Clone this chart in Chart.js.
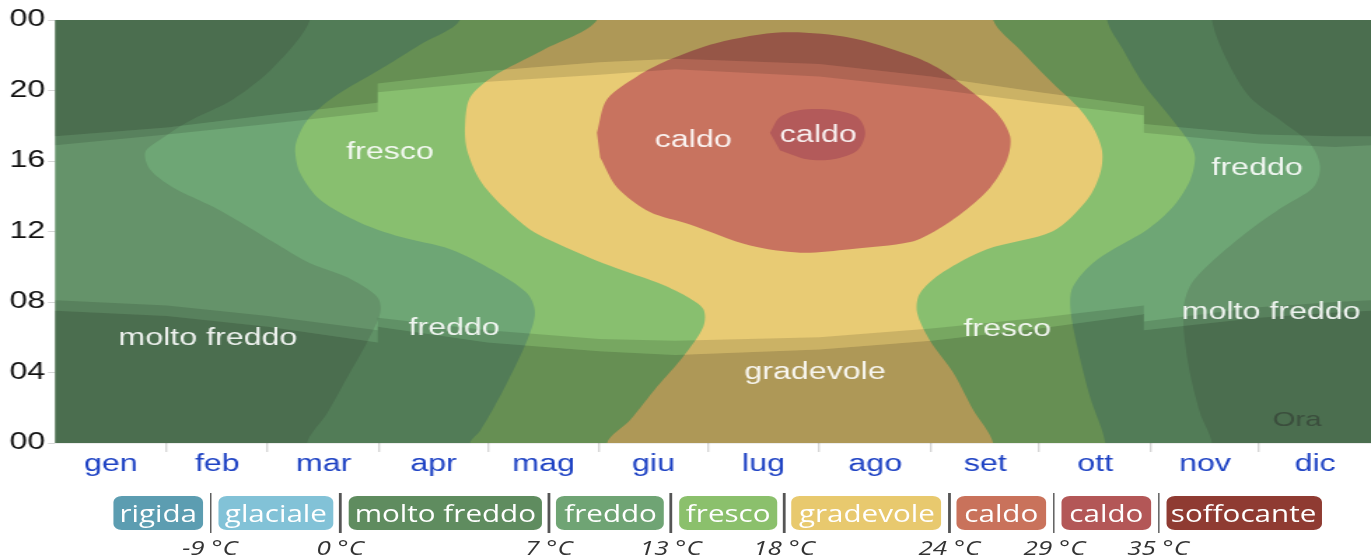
<!DOCTYPE html>
<html>
<head>
<meta charset="utf-8">
<script src="https://cdn.jsdelivr.net/npm/chart.js@4.4.1/dist/chart.umd.min.js"></script>
<style>
  html, body { margin: 0; padding: 0; background: #fff; overflow: hidden; }
  #stage { position: relative; width: 979px; height: 558px; transform: scaleX(1.4004); transform-origin: 0 0; }
  #chart { position: absolute; left: 0; top: 0; }
  #legend { position: absolute; left: 80.7px; top: 493px; display: flex; align-items: center; font-family: 'Open Sans', 'Liberation Sans', sans-serif; }
  .box { position: relative; height: 34px; border-radius: 6px; color: #fff; font-size: 24px; white-space: nowrap; }
  .box span { position: absolute; left: 50%; top: 0; line-height: 34px; transform: translateX(-50%) scaleX(0.88); }
  .sep { position: relative; width: 1.6px; height: 40px; background: #555; margin: 0 4.6px; }
  .sep span { position: absolute; top: 44px; left: 50%; transform: translateX(-50%) scaleX(0.93); font-style: italic; font-size: 20px; color: #333; white-space: nowrap; line-height: 22px; }
</style>
</head>
<body>
<div id="stage">
  <canvas id="chart" width="979" height="490"></canvas>
  <div id="legend"></div>
</div>
<script>
// mesi e ore
const monthNames = ['gen', 'feb', 'mar', 'apr', 'mag', 'giu', 'lug', 'ago', 'set', 'ott', 'nov', 'dic'];
const monthStarts = [0, 31, 59, 90, 120, 151, 181, 212, 243, 273, 304, 334, 365];
const hourTicks = [0, 4, 8, 12, 16, 20, 24];

// confini delle zone di temperatura [giorno dell'anno, ora]
const freddoLeft = [[70.7, 24], [60.5, 21.3], [49.4, 19.5], [36.6, 18.2], [29.1, 17.2], [25.0, 16.5], [26.4, 15.5], [32.7, 14.5], [43.8, 13.4], [54.9, 12.1], [60.5, 11.4], [70.7, 10.2], [81.0, 9.4], [89.3, 8.3], [90.2, 7.4], [86.5, 5.7], [81.0, 3.7], [75.5, 1.7], [69.9, 0]];
const freddoRight = [[320.9, 0], [317.6, 1.7], [314.3, 4.5], [312.9, 7.4], [314.8, 8.9], [320.4, 10.2], [331.5, 12.1], [340.6, 13.4], [349.0, 14.5], [350.9, 15.7], [348.1, 17.0], [340.6, 18.2], [331.5, 19.6], [325.1, 21.7], [320.9, 24]];
const frescoLeft = [[112.3, 24], [101.2, 22.6], [91.0, 21.3], [77.1, 19.6], [69.9, 18.3], [67.1, 17.2], [66.6, 16.5], [68.0, 15.3], [73.5, 13.8], [84.6, 12.5], [95.7, 11.7], [109.6, 11.0], [121.5, 9.8], [130.9, 8.5], [133.1, 7.4], [130.9, 5.8], [124.3, 3.0], [117.9, 0.7], [115.1, 0]];
const frescoRight = [[291.3, 0], [287.1, 2.6], [283.5, 5.5], [281.6, 7.7], [282.4, 8.9], [289.0, 10.4], [302.9, 12.1], [310.1, 13.4], [314.8, 14.9], [316.2, 16.2], [314.8, 17.0], [309.3, 18.5], [301.8, 20.4], [296.3, 22.3], [291.8, 24]];
const gradLeft = [[150.3, 24], [135.4, 22.3], [121.5, 20.8], [115.1, 19.6], [113.7, 17.9], [114.3, 16.6], [117.9, 14.9], [124.3, 13.4], [131.8, 12.1], [137.3, 11.5], [152.0, 10.2], [167.0, 9.1], [175.3, 8.3], [179.8, 7.6], [179.8, 6.6], [174.2, 4.9], [167.0, 3.2], [159.5, 1.3], [153.1, 0]];
const gradRight = [[260.2, 0], [254.6, 1.9], [249.1, 4.0], [242.7, 5.8], [239.1, 7.4], [239.9, 8.5], [246.3, 9.7], [258.5, 11.0], [276.6, 12.0], [286.3, 13.8], [289.9, 15.3], [290.4, 16.6], [287.9, 17.9], [283.5, 19.1], [276.8, 20.4], [267.7, 22.3], [260.2, 24]];
const caldoZone = [[150.3, 17.6], [153.1, 19.5], [161.4, 20.8], [169.8, 21.7], [183.6, 22.7], [201.9, 23.3], [220.5, 23.0], [237.2, 22.0], [244.7, 21.3], [253.8, 20.0], [261.3, 18.7], [264.9, 17.4], [264.1, 16.1], [259.4, 14.5], [251.9, 13.1], [244.7, 12.1], [237.2, 11.4], [220.5, 11.0], [206.7, 10.8], [192.8, 11.2], [176.1, 12.4], [165.0, 13.1], [155.9, 14.5], [151.2, 16.2]];
const caldo2Zone = [[198.3, 17.6], [201.1, 18.5], [206.7, 18.9], [215.8, 18.9], [222.5, 18.5], [224.7, 17.6], [222.5, 16.6], [215.8, 16.1], [208.6, 16.1], [201.1, 16.6]];

// alba, tramonto e crepuscolo (ore)
const sunDays = [0, 31, 59, 89.5, 89.5, 120, 151, 172, 212, 243, 273, 302, 302, 334, 355, 365];
const sunsetHours = [16.9, 17.5, 18.1, 18.8, 19.9, 20.5, 20.9, 21.2, 20.8, 20.1, 19.3, 18.6, 17.6, 17.0, 16.8, 16.9];
const duskHours = [17.4, 17.9, 18.6, 19.3, 20.4, 21.1, 21.6, 21.8, 21.5, 20.8, 19.9, 19.1, 18.1, 17.5, 17.4, 17.4];
const sunriseHours = [8.1, 7.8, 7.2, 6.4, 7.1, 6.4, 5.9, 5.8, 6.0, 6.5, 7.1, 7.8, 6.9, 7.7, 8.0, 8.1];
const dawnHours = [7.5, 7.2, 6.6, 5.7, 6.6, 5.7, 5.2, 5.0, 5.3, 5.8, 6.5, 7.3, 6.4, 7.1, 7.4, 7.5];

// etichette
const zoneLabels = ['fresco', 'caldo', 'caldo', 'freddo', 'molto freddo', 'freddo', 'gradevole', 'fresco', 'molto freddo'];
const zoneLabelDays = [92.9, 177.0, 211.7, 333.4, 42.4, 110.7, 210.8, 264.1, 337.3];
const zoneLabelHours = [16.45, 17.13, 17.42, 15.55, 5.9, 6.47, 3.97, 6.41, 7.38];
const oraPos = [344.5, 1.3];

const legendNames = ['rigida', 'glaciale', 'molto freddo', 'freddo', 'fresco', 'gradevole', 'caldo', 'caldo', 'soffocante'];
const legendTemps = ['-9 °C', '0 °C', '7 °C', '13 °C', '18 °C', '24 °C', '29 °C', '35 °C'];
const legendColors = ['#5c9db1', '#82c2d7', '#5f8c5f', '#6fa474', '#8bc06c', '#e8c96e', '#c9725b', '#b35757', '#8f3b32'];
const legendWidths = [64.3, 82, 138, 76.5, 70, 107, 64, 64, 111.4];

const pts = arr => arr.map(p => ({ x: p[0], y: p[1] }));

// zona compresa tra un confine sinistro (dall'alto in basso) e uno destro (dal basso in alto)
function between(left, right) {
    const lt = left[0], lb = left[left.length - 1];
    const rb = right[0], rt = right[right.length - 1];
    return pts([[lt[0], 27], ...left, [lb[0], -3], [rb[0], -3], ...right, [rt[0], 27]]);
}

function curve(hours) {
    return sunDays.map((d, i) => [d, hours[i]]);
}

const nightTop = pts([[-5, duskHours[0]], ...curve(duskHours), [370, duskHours[duskHours.length - 1]], [370, 30], [-5, 30]]);
const twilightTop = pts([[-5, sunsetHours[0]], ...curve(sunsetHours), [370, sunsetHours[sunsetHours.length - 1]], [370, duskHours[duskHours.length - 1]], ...curve(duskHours).reverse(), [-5, duskHours[0]]]);
const nightBottom = pts([[-5, dawnHours[0]], ...curve(dawnHours), [370, dawnHours[dawnHours.length - 1]], [370, -5], [-5, -5]]);
const twilightBottom = pts([[-5, sunriseHours[0]], ...curve(sunriseHours), [370, sunriseHours[sunriseHours.length - 1]], [370, dawnHours[dawnHours.length - 1]], ...curve(dawnHours).reverse(), [-5, dawnHours[0]]]);

function zone(data, color, order, tension) {
    return {
        data: data,
        backgroundColor: color,
        borderColor: 'rgba(0,0,0,0)',
        borderWidth: 0,
        pointRadius: 0,
        fill: 'shape',
        tension: tension,
        order: order
    };
}

const font = '"Liberation Sans", Arial, sans-serif';

const zoneText = {
    id: 'zoneText',
    afterDatasetsDraw(chart) {
        const { ctx, scales: { x, y } } = chart;
        ctx.save();
        ctx.textAlign = 'center';
        ctx.textBaseline = 'middle';
        ctx.font = '23px ' + font;
        ctx.fillStyle = 'rgba(255,255,255,0.9)';
        zoneLabels.forEach((t, i) => {
            ctx.fillText(t, x.getPixelForValue(zoneLabelDays[i]), y.getPixelForValue(zoneLabelHours[i]));
        });
        ctx.font = '21px ' + font;
        ctx.fillStyle = 'rgba(40,40,40,0.45)';
        ctx.fillText('Ora', x.getPixelForValue(oraPos[0]), y.getPixelForValue(oraPos[1]));
        ctx.restore();
    }
};

new Chart(document.getElementById('chart'), {
    type: 'line',
    data: {
        datasets: [
            zone(pts([[-10, -5], [375, -5], [375, 30], [-10, 30]]), '#65936a', 10, 0),
            zone(between(freddoLeft, freddoRight), '#6ea675', 9, 0.3),
            zone(between(frescoLeft, frescoRight), '#88bf6f', 8, 0.3),
            zone(between(gradLeft, gradRight), '#e8cb74', 7, 0.3),
            zone(pts(caldoZone), '#c8735f', 6, 0.3),
            zone(pts(caldo2Zone), '#b35a5a', 5, 0.3),
            zone(twilightTop, 'rgba(0,0,0,0.12)', 4, 0),
            zone(twilightBottom, 'rgba(0,0,0,0.12)', 3, 0),
            zone(nightTop, 'rgba(0,0,0,0.25)', 2, 0),
            zone(nightBottom, 'rgba(0,0,0,0.25)', 1, 0)
        ]
    },
    options: {
        responsive: false,
        animation: false,
        events: [],
        layout: { padding: { top: 20, left: 0, right: 0, bottom: 0 } },
        plugins: { legend: { display: false }, tooltip: { enabled: false } },
        scales: {
            x: {
                type: 'linear', min: 0, max: 365, position: 'bottom', z: 1,
                afterBuildTicks: s => { s.ticks = monthStarts.map(v => ({ value: v })); },
                afterFit: s => { s.height = 0; },
                ticks: { display: false },
                grid: {
                    color: c => (c.index === 0 || c.index === 12) ? 'rgba(0,0,0,0)' : 'rgba(0,0,0,0.2)',
                    tickColor: c => (c.index === 0 || c.index === 12) ? 'rgba(0,0,0,0)' : '#d6d6d6',
                    lineWidth: 1.4,
                    tickLength: 9
                },
                border: { display: false }
            },
            xm: {
                type: 'linear', min: 0, max: 365, position: 'bottom',
                afterBuildTicks: s => { s.ticks = monthStarts.slice(0, 12).map((v, i) => ({ value: (v + monthStarts[i + 1]) / 2 })); },
                afterFit: s => { s.height = 47; },
                ticks: {
                    callback: (v, i) => monthNames[i],
                    autoSkip: false, maxRotation: 0,
                    color: '#1f43c4',
                    font: { family: font, size: 23 },
                    padding: 8
                },
                grid: { display: false, drawTicks: false },
                border: { display: false }
            },
            y: {
                type: 'linear', min: 0, max: 24, z: 1,
                afterBuildTicks: s => { s.ticks = hourTicks.map(v => ({ value: v })); },
                afterFit: s => { s.width = 39.3; },
                ticks: {
                    callback: v => String(v % 24).padStart(2, '0'),
                    color: '#111',
                    font: { family: font, size: 23 },
                    padding: 2
                },
                grid: {
                    color: c => c.index === 6 ? 'rgba(255,255,255,0.45)' : 'rgba(0,0,0,0.07)',
                    tickColor: '#d6d6d6',
                    tickLength: 5
                },
                border: { display: false }
            }
        }
    },
    plugins: [zoneText]
});

// legenda
const legend = document.getElementById('legend');
legendNames.forEach((name, i) => {
    if (i > 0) {
        const sep = document.createElement('div');
        sep.className = 'sep';
        const t = document.createElement('span');
        t.textContent = legendTemps[i - 1];
        sep.appendChild(t);
        legend.appendChild(sep);
    }
    const box = document.createElement('div');
    box.className = 'box';
    box.style.background = legendColors[i];
    box.style.width = legendWidths[i] + 'px';
    const s = document.createElement('span');
    s.textContent = name;
    box.appendChild(s);
    legend.appendChild(box);
});
</script>
</body>
</html>
